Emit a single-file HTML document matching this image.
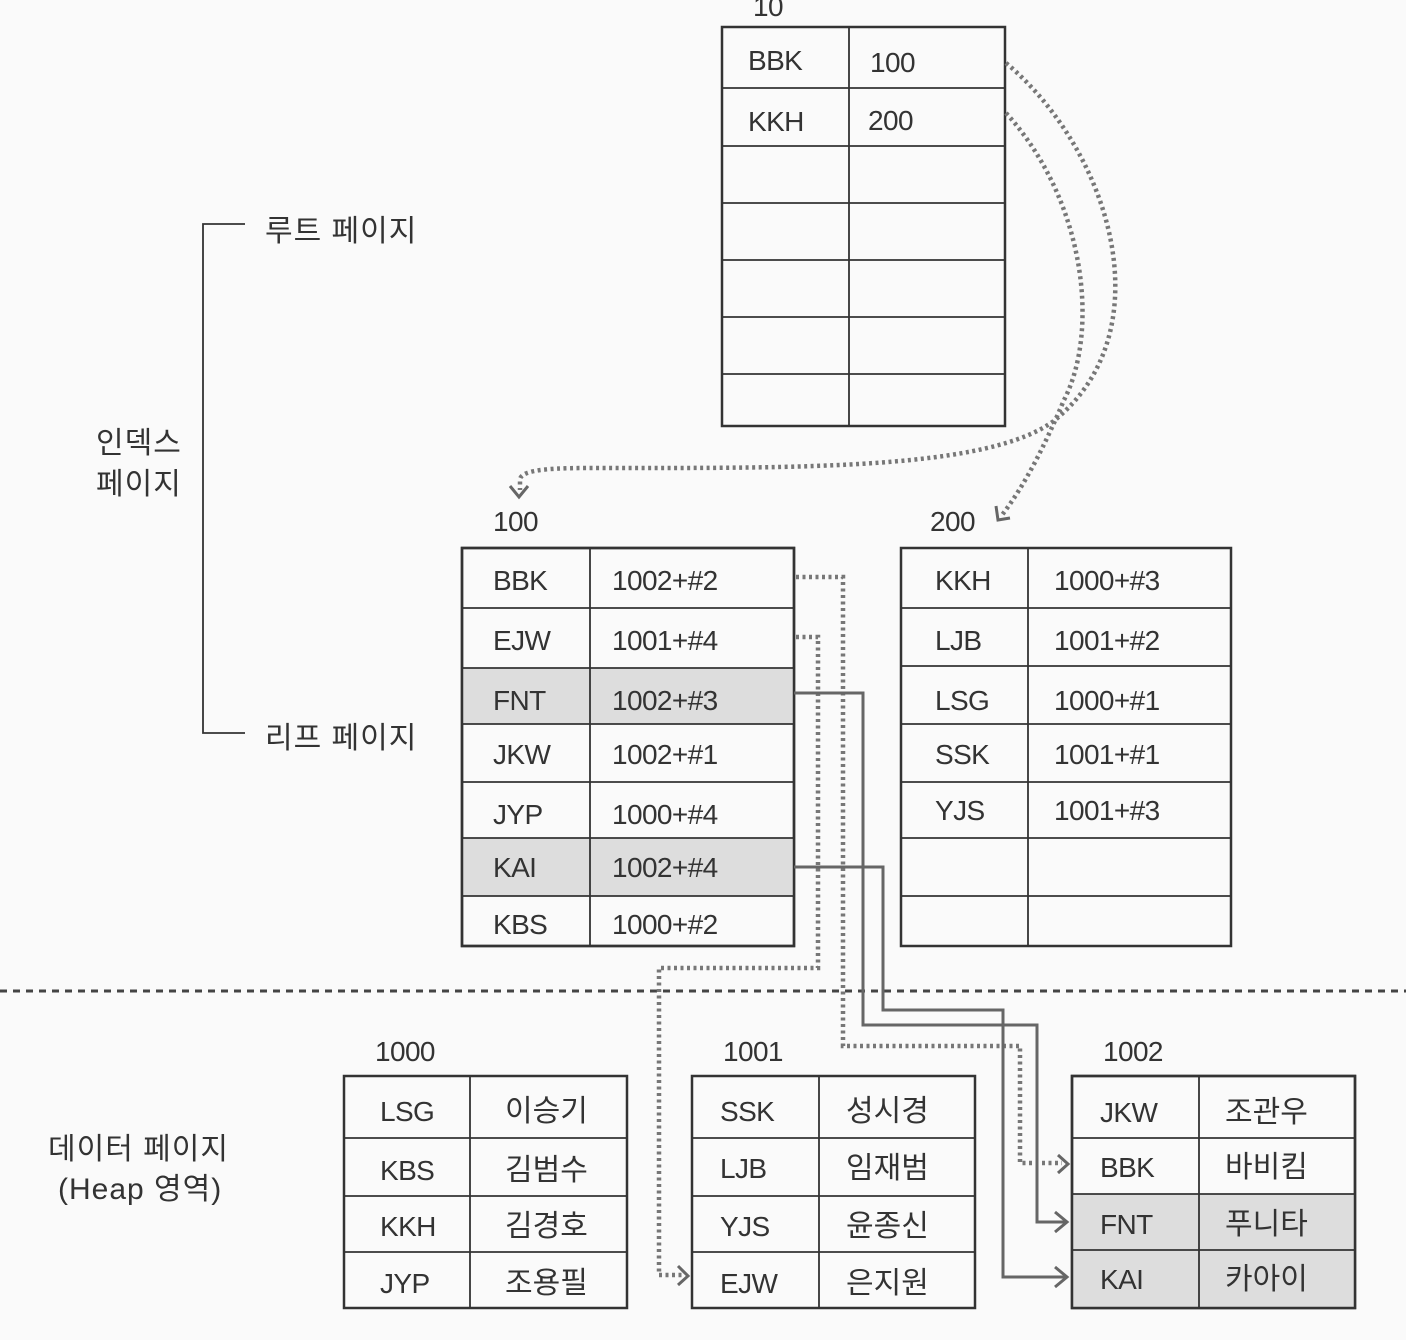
<!DOCTYPE html>
<html><head><meta charset="utf-8"><style>
html,body{margin:0;padding:0;background:#fafafa;}
svg{display:block;}
text{font-family:"Liberation Sans","Noto Sans CJK KR",sans-serif;fill:#333;font-size:28px;letter-spacing:-0.6px;}
.k{font-size:30px;letter-spacing:1px;}
.t{fill:none;stroke:#333;stroke-width:2.5;}
.g{fill:none;stroke:#333;stroke-width:1.8;}
.d{fill:none;stroke:#777;stroke-width:4.5;stroke-dasharray:3 3.5;}
.s{fill:none;stroke:#666;stroke-width:3;}
</style></head><body>
<svg width="1406" height="1340" viewBox="0 0 1406 1340">
<rect width="1406" height="1340" fill="#fafafa"/>
<text x="753" y="16">10</text>
<rect x="722" y="27" width="283" height="399" fill="#fff" class="t"/>
<g class="g"><line x1="849" y1="27" x2="849" y2="426"/>
<line x1="722" y1="88" x2="1005" y2="88"/><line x1="722" y1="146" x2="1005" y2="146"/><line x1="722" y1="203" x2="1005" y2="203"/><line x1="722" y1="260" x2="1005" y2="260"/><line x1="722" y1="317" x2="1005" y2="317"/><line x1="722" y1="374" x2="1005" y2="374"/></g>
<text x="748" y="70">BBK</text><text x="870" y="72">100</text>
<text x="748" y="131">KKH</text><text x="868" y="130">200</text>
<path d="M245 224 H203 V733 H245" class="g"/>
<text x="265" y="241" class="k">루트 페이지</text>
<text x="265" y="748" class="k">리프 페이지</text>
<text x="96" y="453" class="k">인덱스</text>
<text x="96" y="494" class="k">페이지</text>
<text x="48" y="1159" class="k">데이터 페이지</text>
<text x="58" y="1199" class="k">(Heap 영역)</text>
<path d="M1006 63 C1110 150 1165 330 1055 420 C990 470 800 468 600 468 C560 468 520 468 520 480 V490" class="d"/>
<path d="M510 486 L519 497 L528 486" class="s" stroke="#888"/>
<path d="M1006 113 C1085 200 1100 330 1064 400 C1045 445 1025 485 1002 515" class="d"/>
<path d="M996 506 L998 520 L1010 518" class="s" stroke="#888"/>
<text x="493" y="531">100</text>
<rect x="462" y="548" width="332" height="398" fill="#fff" class="t"/>
<rect x="463" y="668" width="330" height="56" fill="#ddd"/>
<rect x="463" y="838" width="330" height="58" fill="#ddd"/>
<g class="g"><line x1="590" y1="548" x2="590" y2="946"/>
<line x1="462" y1="608" x2="794" y2="608"/><line x1="462" y1="668" x2="794" y2="668"/><line x1="462" y1="724" x2="794" y2="724"/><line x1="462" y1="782" x2="794" y2="782"/><line x1="462" y1="838" x2="794" y2="838"/><line x1="462" y1="896" x2="794" y2="896"/></g>
<rect x="462" y="548" width="332" height="398" fill="none" class="t"/>
<text x="493" y="590">BBK</text><text x="612" y="590">1002+#2</text>
<text x="493" y="650">EJW</text><text x="612" y="650">1001+#4</text>
<text x="493" y="710">FNT</text><text x="612" y="710">1002+#3</text>
<text x="493" y="764">JKW</text><text x="612" y="764">1002+#1</text>
<text x="493" y="824">JYP</text><text x="612" y="824">1000+#4</text>
<text x="493" y="877">KAI</text><text x="612" y="877">1002+#4</text>
<text x="493" y="934">KBS</text><text x="612" y="934">1000+#2</text>
<text x="930" y="531">200</text>
<rect x="901" y="548" width="330" height="398" fill="#fff" class="t"/>
<g class="g"><line x1="1028" y1="548" x2="1028" y2="946"/>
<line x1="901" y1="608" x2="1231" y2="608"/><line x1="901" y1="666" x2="1231" y2="666"/><line x1="901" y1="724" x2="1231" y2="724"/><line x1="901" y1="782" x2="1231" y2="782"/><line x1="901" y1="838" x2="1231" y2="838"/><line x1="901" y1="896" x2="1231" y2="896"/></g>
<text x="935" y="590">KKH</text><text x="1054" y="590">1000+#3</text>
<text x="935" y="650">LJB</text><text x="1054" y="650">1001+#2</text>
<text x="935" y="710">LSG</text><text x="1054" y="710">1000+#1</text>
<text x="935" y="764">SSK</text><text x="1054" y="764">1001+#1</text>
<text x="935" y="820">YJS</text><text x="1054" y="820">1001+#3</text>
<line x1="0" y1="991" x2="1406" y2="991" stroke="#444" stroke-width="3" stroke-dasharray="7 6"/>
<path d="M796 577 H843 V1046 H1020 V1163 H1062" class="d"/>
<path d="M1058 1155 L1068 1164 L1058 1173" class="s"/>
<path d="M796 637 H818 V968 H659 V1275 H682" class="d"/>
<path d="M678 1266 L688 1276 L678 1285" class="s"/>
<path d="M794 693 H863 V1025 H1037 V1222 H1066" class="s"/>
<path d="M1055 1212 L1067 1222 L1055 1232" class="s"/>
<path d="M794 867 H883 V1010 H1003 V1277 H1066" class="s"/>
<path d="M1055 1267 L1067 1277 L1055 1287" class="s"/>
<text x="375" y="1061">1000</text>
<rect x="344" y="1076" width="283" height="232" fill="#fff" class="t"/>
<g class="g"><line x1="470" y1="1076" x2="470" y2="1308"/><line x1="344" y1="1138" x2="627" y2="1138"/><line x1="344" y1="1196" x2="627" y2="1196"/><line x1="344" y1="1252" x2="627" y2="1252"/></g>
<text x="380" y="1121">LSG</text><text x="505" y="1121" class="k" style="letter-spacing:0">이승기</text>
<text x="380" y="1180">KBS</text><text x="505" y="1180" class="k" style="letter-spacing:0">김범수</text>
<text x="380" y="1236">KKH</text><text x="505" y="1236" class="k" style="letter-spacing:0">김경호</text>
<text x="380" y="1293">JYP</text><text x="505" y="1293" class="k" style="letter-spacing:0">조용필</text>
<text x="723" y="1061">1001</text>
<rect x="692" y="1076" width="283" height="232" fill="#fff" class="t"/>
<g class="g"><line x1="819" y1="1076" x2="819" y2="1308"/><line x1="692" y1="1138" x2="975" y2="1138"/><line x1="692" y1="1196" x2="975" y2="1196"/><line x1="692" y1="1252" x2="975" y2="1252"/></g>
<text x="720" y="1121">SSK</text><text x="846" y="1121" class="k" style="letter-spacing:0">성시경</text>
<text x="720" y="1178">LJB</text><text x="846" y="1178" class="k" style="letter-spacing:0">임재범</text>
<text x="720" y="1236">YJS</text><text x="846" y="1236" class="k" style="letter-spacing:0">윤종신</text>
<text x="720" y="1293">EJW</text><text x="846" y="1293" class="k" style="letter-spacing:0">은지원</text>
<text x="1103" y="1061">1002</text>
<rect x="1072" y="1076" width="283" height="232" fill="#fff" class="t"/>
<rect x="1073" y="1194" width="281" height="113" fill="#ddd"/>
<g class="g"><line x1="1199" y1="1076" x2="1199" y2="1308"/><line x1="1072" y1="1138" x2="1355" y2="1138"/><line x1="1072" y1="1194" x2="1355" y2="1194"/><line x1="1072" y1="1250" x2="1355" y2="1250"/></g>
<rect x="1072" y="1076" width="283" height="232" fill="none" class="t"/>
<text x="1100" y="1122">JKW</text><text x="1225" y="1122" class="k" style="letter-spacing:0">조관우</text>
<text x="1100" y="1177">BBK</text><text x="1225" y="1177" class="k" style="letter-spacing:0">바비킴</text>
<text x="1100" y="1234">FNT</text><text x="1225" y="1234" class="k" style="letter-spacing:0">푸니타</text>
<text x="1100" y="1289">KAI</text><text x="1225" y="1289" class="k" style="letter-spacing:0">카아이</text>
</svg>
</body></html>
